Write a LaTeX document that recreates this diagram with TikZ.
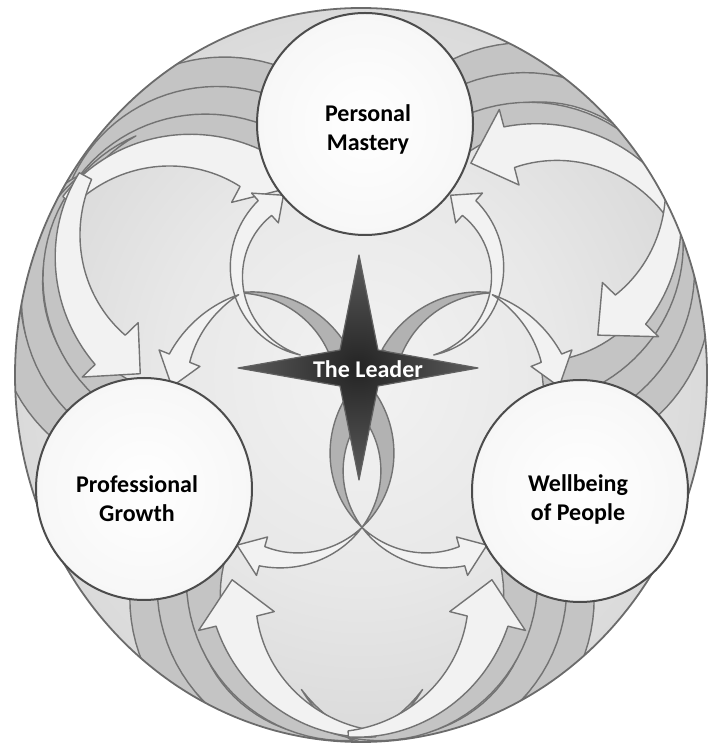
\documentclass[tikz,border=0pt]{standalone}
\usepackage{fontspec}
\setmainfont{Carlito}
\usetikzlibrary{shapes.geometric}

\pgfdeclareradialshading{discfill}{\pgfpoint{0bp}{0bp}}{%
  color(0bp)=(black!5); color(14bp)=(black!9); color(30bp)=(black!17); color(42bp)=(black!24); color(50bp)=(black!32)}
\pgfdeclareradialshading{nodefill}{\pgfpoint{0bp}{0bp}}{%
  color(0bp)=(white); color(24bp)=(black!3); color(50bp)=(black!21)}
\pgfdeclareradialshading{starfill}{\pgfpoint{0bp}{0bp}}{%
  color(0bp)=(black!86); color(18bp)=(black!70); color(50bp)=(black!38)}

% band along a circle: centre (#2,#3), radius #4, from angle #5 (width #6) to angle #7 (width #8)
\newcommand\arcband[8]{%
  \path[#1]
    plot[variable=\s,domain=0:1,samples=40]
      ({(#2)+((#4)+0.5*((#6)+((#8)-(#6))*\s))*cos((#5)+((#7)-(#5))*\s)},
       {(#3)+((#4)+0.5*((#6)+((#8)-(#6))*\s))*sin((#5)+((#7)-(#5))*\s)})
    -- plot[variable=\s,domain=0:1,samples=40]
      ({(#2)+((#4)-0.5*((#8)+((#6)-(#8))*\s))*cos((#7)+((#5)-(#7))*\s)},
       {(#3)+((#4)-0.5*((#8)+((#6)-(#8))*\s))*sin((#7)+((#5)-(#7))*\s)})
    -- cycle;}

% the same band closed by an arrow head whose tip lies at angle #9;
% \headw is the half width of the head
\newcommand\arcarrow[9]{%
  \path[#1]
    plot[variable=\s,domain=0:1,samples=40]
      ({(#2)+((#4)+0.5*((#6)+((#8)-(#6))*\s))*cos((#5)+((#7)-(#5))*\s)},
       {(#3)+((#4)+0.5*((#6)+((#8)-(#6))*\s))*sin((#5)+((#7)-(#5))*\s)})
    -- ({(#2)+((#4)+\headw)*cos(#7)},{(#3)+((#4)+\headw)*sin(#7)})
    -- ({(#2)+(#4)*cos(#9)},{(#3)+(#4)*sin(#9)})
    -- ({(#2)+((#4)-\headw)*cos(#7)},{(#3)+((#4)-\headw)*sin(#7)})
    -- plot[variable=\s,domain=0:1,samples=40]
      ({(#2)+((#4)-0.5*((#8)+((#6)-(#8))*\s))*cos((#7)+((#5)-(#7))*\s)},
       {(#3)+((#4)-0.5*((#8)+((#6)-(#8))*\s))*sin((#7)+((#5)-(#7))*\s)})
    -- cycle;}

\tikzset{
  edge/.style={draw=black!55, line width=1.4pt, line join=round},
  ghost/.style={edge, fill=black!23},
  swoosh/.style={edge, fill=black!5},
  ribbonback/.style={edge, fill=black!30},
  topic/.style={ellipse, minimum width=216pt, minimum height=222pt, inner sep=0pt,
    draw=black!70, line width=2pt, shade, shading=nodefill},
  topiclabel/.style={align=center, font=\fontsize{24}{29}\selectfont\bfseries, text=black},
  leaderstar/.style={draw=black!62, line width=1.2pt, line join=round, shade, shading=starfill},
  leaderlabel/.style={font=\fontsize{24}{29}\selectfont\bfseries, text=white}
}

% outer swooshes: turn of trailing copies / centre x / centre y / radius / tail angle /
% head angle / tip angle / end angle of copies / tail width / head width / head half width
\def\swooshlist{%
  1/381/161/149/268/194/178/140/6/42/39,%
  -1/343/161/149/272/346/362/400/6/42/39,%
  1/180/446.5/149/138.7/62/47.3/27/14/42/39,%
  -1/217/500/149/152/224.2/239/275/14/42/39,%
  -1/546.7/454.6/149/26/104.6/120.6/160/14/42/39,%
  1/523.3/539.9/149/2.6/-44/-60/-95/14/42/39}
\def\ghoststep{11}

\begin{document}
\begin{tikzpicture}[x=1pt,y=1pt]
\useasboundingbox (0,0) rectangle (708,746);

% the large disc with its sweeping bands
\begin{scope}
  \path[shade, shading=discfill] (361,371) ellipse [x radius=346, y radius=367];
  \clip (361,371) ellipse [x radius=346, y radius=367];
  \foreach \sg/\cx/\cy/\rr/\ta/\ha/\tp/\gend/\tw/\hw/\hh in \swooshlist {%
    \pgfmathsetmacro\px{\cx+\rr*cos(\ta)}%
    \pgfmathsetmacro\py{\cy+\rr*sin(\ta)}%
    \pgfmathsetmacro\gstart{\ta+\sg*25}%
    \foreach \k in {3,2,1} {%
      \begin{scope}[rotate around={\sg*\ghoststep*\k:(\px,\py)}]
        \arcband{ghost}{\cx}{\cy}{\rr}{\gstart}{0}{\gend}{\hw}
      \end{scope}}}
  \foreach \sg/\cx/\cy/\rr/\ta/\ha/\tp/\gend/\tw/\hw/\hh in \swooshlist {%
    \def\headw{\hh}%
    \arcarrow{swoosh}{\cx}{\cy}{\rr}{\ta}{\tw}{\ha}{\hw}{\tp}}
\end{scope}
\draw[black!58, line width=1.8pt] (361,371) ellipse [x radius=346, y radius=367];

% inner twisted ribbons: reverse sides first, then the light fronts
\arcband{ribbonback}{289}{284}{98}{-42}{0}{40}{25.6}
\arcband{ribbonback}{435}{284}{98}{222}{0}{140}{25.6}
\arcband{ribbonback}{243.8}{347.3}{106}{93}{0}{25}{20}
\arcband{ribbonback}{487.2}{347.3}{106}{87}{0}{155}{20}
\def\headw{20}
\arcarrow{swoosh}{289}{284}{98}{-42}{0}{-106}{20}{-122}
\arcarrow{swoosh}{435}{284}{98}{222}{0}{286}{20}{302}
\arcarrow{swoosh}{322.5}{474.1}{86}{255}{0}{132}{20}{117}
\arcarrow{swoosh}{411.5}{474.1}{86}{-75}{0}{48}{20}{63}
\def\headw{22}
\arcarrow{swoosh}{291.7}{342.5}{121}{116}{0}{158}{22}{172}
\arcarrow{swoosh}{439.3}{342.5}{121}{64}{0}{22}{22}{8}

% the four-pointed star
\path[leaderstar] (359,491) -- (378,396) -- (478,378) -- (378,360) -- (359,266)
  -- (340,360) -- (238,378) -- (340,396) -- cycle;
\node[leaderlabel] (leader) at (368,377) {The Leader};

% the three topics
\node[topic] (pm) at (365,622) {};
\node[topic] (pg) at (144,257) {};
\node[topic] (wp) at (580,255) {};
\node[topiclabel] (pmlabel) at (368,617) {Personal\\Mastery};
\node[topiclabel] (pglabel) at (137,247) {Professional\\Growth};
\node[topiclabel] (wplabel) at (578,247) {Wellbeing\\of People};
\end{tikzpicture}
\end{document}
